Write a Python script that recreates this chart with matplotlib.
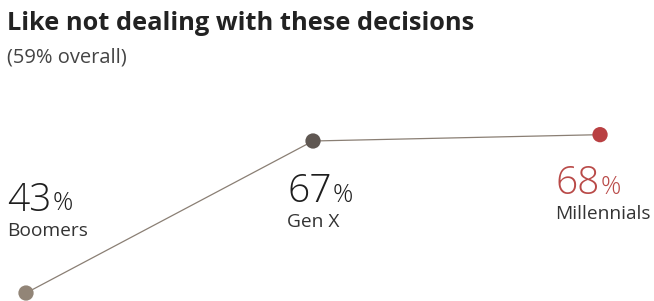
import matplotlib
matplotlib.use("Agg")
import matplotlib.pyplot as plt

plt.rcParams["font.family"] = ["Open Sans", "DejaVu Sans"]

# data
groups = ["Boomers", "Gen X", "Millennials"]
values = [43, 67, 68]
marker_colors = ["#928577", "#5f5752", "#b94042"]
number_colors = ["#1e1e1e", "#1e1e1e", "#b94a48"]
title = "Like not dealing with these decisions"
subtitle = "(59% overall)"

W, H = 654, 301
fig = plt.figure(figsize=(W / 100, H / 100), dpi=100)
ax = fig.add_axes([0, 0, 1, 1])
ax.set_xlim(-0.0906, 2.188)
ax.set_ylim(41.74, 89.26)
ax.axis("off")

xs = list(range(len(values)))
ax.plot(xs, values, color="#8a7f74", lw=0.9, zorder=1)
ax.scatter(xs, values, s=11 ** 2, c=marker_colors, zorder=2, linewidths=0)

fig.text(7 / W, 1 - 24 / H, title, fontsize=18.3, fontweight="bold",
         color="#222222", va="center", ha="left")
fig.text(7 / W, 1 - 58 / H, subtitle, fontsize=14.5, color="#444444",
         va="center", ha="left")

# value labels (pixel positions from left/top)
label_x = [7, 287, 555]
num_y = [201, 192, 184]
name_y = [231, 222, 214]
renderer = fig.canvas.get_renderer()
for g, v, c, lx, ny, gy in zip(groups, values, number_colors, label_x, num_y, name_y):
    t = fig.text(lx / W, 1 - ny / H, f"{v}", fontsize=28, color=c,
                 fontweight="light", va="center", ha="left")
    bb = t.get_window_extent(renderer)
    fig.text((bb.x1 + 1) / W, 1 - (ny + 3) / H, "%", fontsize=18, color=c,
             fontweight="light", va="center", ha="left")
    fig.text(lx / W, 1 - gy / H, g, fontsize=13.8, color="#333333",
             va="center", ha="left")

fig.savefig("out.png", dpi=100)
